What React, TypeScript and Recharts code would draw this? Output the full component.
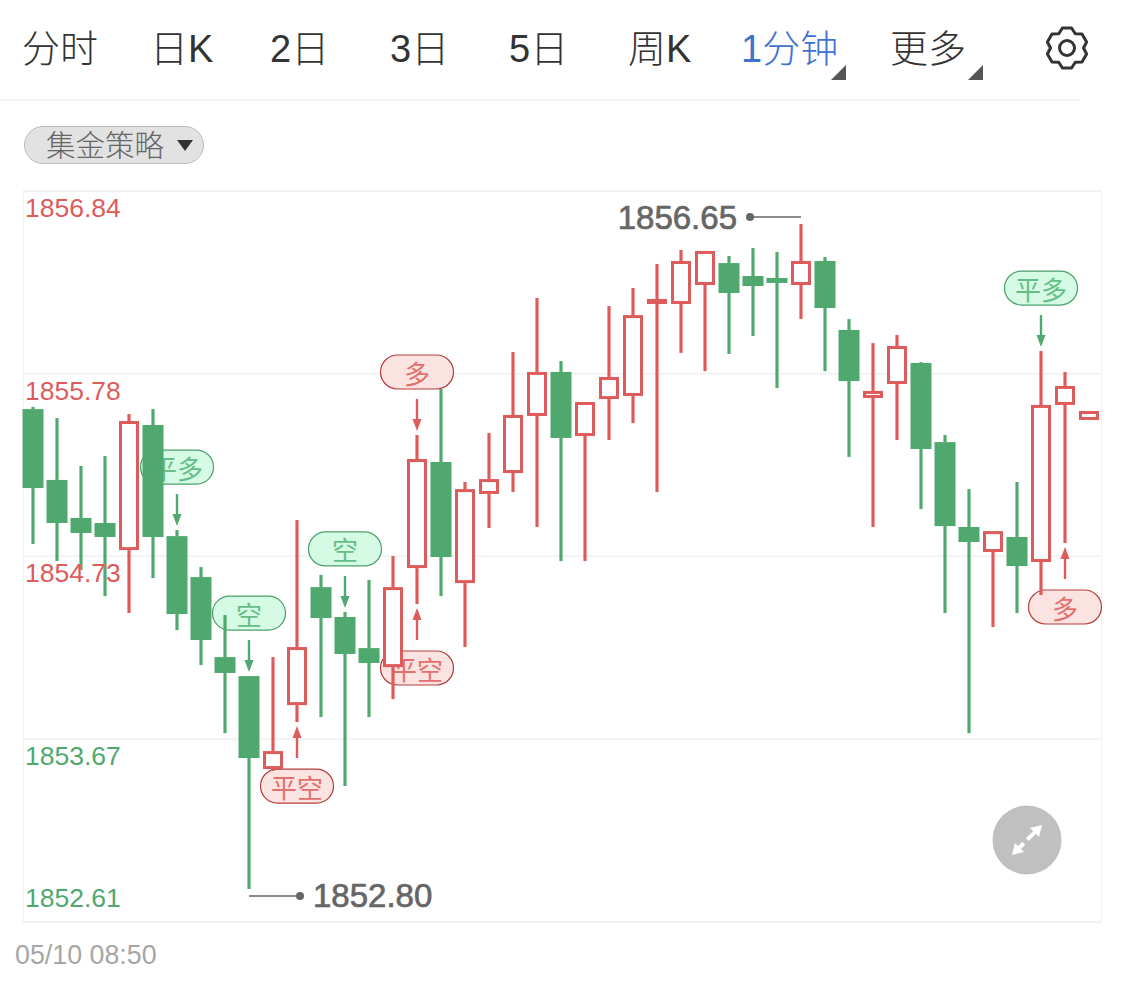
import { Bar, CartesianGrid, ComposedChart, ReferenceDot, XAxis, YAxis } from "recharts";

const RED = "#de5b5b";
const GREEN = "#4fa96f";
const LATIN = '"Liberation Sans", "Noto Sans CJK SC", sans-serif';
const CJK = '"Noto Sans CJK SC", "Liberation Sans", sans-serif';

const times = [
  "08:50", "08:51", "08:52", "08:53", "08:54", "08:55", "08:56", "08:57", "08:58", "08:59",
  "09:00", "09:01", "09:02", "09:03", "09:04", "09:05", "09:06", "09:07", "09:08", "09:09",
  "09:10", "09:11", "09:12", "09:13", "09:14", "09:15", "09:16", "09:17", "09:18", "09:19",
  "09:20", "09:21", "09:22", "09:23", "09:24", "09:25", "09:26", "09:27", "09:28", "09:29",
  "09:30", "09:31", "09:32", "09:33", "09:34",
];
const opens = [
  1855.578, 1855.168, 1854.948, 1854.919, 1854.762, 1855.486, 1854.843, 1854.606, 1854.143, 1854.033,
  1853.495, 1853.865, 1854.548, 1854.375, 1854.195, 1854.085, 1854.658, 1855.272, 1854.571, 1855.087,
  1855.208, 1855.538, 1855.793, 1855.422, 1855.636, 1855.654, 1856.186, 1856.186, 1856.296, 1856.423,
  1856.348, 1856.337, 1856.296, 1856.435, 1856.036, 1855.642, 1855.723, 1855.845, 1855.387, 1854.896,
  1854.751, 1854.838, 1854.693, 1855.602, 1855.515,
];
const closes = [
  1855.121, 1854.919, 1854.861, 1854.838, 1855.509, 1854.838, 1854.392, 1854.242, 1854.051, 1853.559,
  1853.599, 1854.201, 1854.369, 1854.161, 1854.109, 1854.548, 1855.289, 1854.722, 1855.115, 1855.173,
  1855.544, 1855.793, 1855.411, 1855.619, 1855.764, 1856.122, 1856.215, 1856.435, 1856.493, 1856.25,
  1856.29, 1856.308, 1856.435, 1856.163, 1855.74, 1855.683, 1855.943, 1855.347, 1854.901, 1854.809,
  1854.872, 1854.67, 1855.602, 1855.712, 1855.567,
];
const highs = [
  1855.59, 1855.526, 1855.249, 1855.306, 1855.549, 1855.578, 1854.878, 1854.664, 1854.386, 1854.033,
  1854.143, 1854.936, 1854.618, 1854.404, 1854.589, 1854.728, 1855.428, 1855.694, 1855.156, 1855.44,
  1855.908, 1856.221, 1855.856, 1855.619, 1856.174, 1856.279, 1856.418, 1856.499, 1856.493, 1856.464,
  1856.51, 1856.487, 1856.649, 1856.458, 1856.099, 1855.96, 1856.007, 1855.85, 1855.428, 1855.115,
  1854.872, 1855.156, 1855.914, 1855.793, 1855.567,
];
const lows = [
  1854.797, 1854.699, 1854.647, 1854.496, 1854.398, 1854.6, 1854.299, 1854.097, 1853.703, 1852.801,
  1853.484, 1853.767, 1853.796, 1853.397, 1853.796, 1853.9, 1854.45, 1854.496, 1854.201, 1854.89,
  1855.098, 1854.896, 1854.699, 1854.699, 1855.399, 1855.497, 1855.098, 1855.903, 1855.798, 1855.897,
  1856.001, 1855.7, 1856.099, 1855.798, 1855.301, 1854.896, 1855.399, 1855, 1854.398, 1853.703,
  1854.317, 1854.398, 1854.502, 1854.803, 1855.515,
];

const priceTicks = [1856.84, 1855.7825, 1854.726, 1853.6675, 1852.61];

const signalBars = [6, 9, 11, 13, 16, 16, 42, 43];
const signalLabels = ["平多", "空", "平空", "空", "平空", "多", "平多", "多"];
const signalColors = ["green", "green", "red", "green", "red", "red", "green", "red"];
const signalSides = ["above", "above", "below", "above", "below", "above", "above", "below"];

const tabLabels = ["分时", "日K", "2日", "3日", "5日", "周K", "1分钟", "更多"];
const tabLeft = [22, 150, 270, 390, 509, 628, 741, 890];

const data = times.map((time, i) => ({
  time,
  open: opens[i],
  close: closes[i],
  high: highs[i],
  low: lows[i],
  range: [lows[i], highs[i]],
}));

function Candle(props: any) {
  const { x, y, width, height, payload } = props;
  const up = payload.close >= payload.open;
  const color = up ? RED : GREEN;
  const cx = x + width / 2;
  const k = height / (payload.high - payload.low);
  const top = y + (payload.high - Math.max(payload.open, payload.close)) * k;
  const bottom = y + (payload.high - Math.min(payload.open, payload.close)) * k;
  return (
    <g>
      <line x1={cx} x2={cx} y1={y} y2={top} stroke={color} strokeWidth={3.2} />
      <line x1={cx} x2={cx} y1={bottom} y2={y + height} stroke={color} strokeWidth={3.2} />
      {up ? (
        <rect x={cx - 8.5} y={top + 1.5} width={17} height={Math.max(bottom - top - 3, 0)} fill="#fff" stroke={color} strokeWidth={3} />
      ) : (
        <rect x={cx - 10.5} y={top} width={21} height={bottom - top} fill={color} />
      )}
    </g>
  );
}

function Signal(props: any) {
  const { cx, cy, label, color, side } = props;
  const isRed = color === "red";
  const main = isRed ? RED : GREEN;
  const dir = side === "above" ? -1 : 1;
  const tip = cy + dir * 4;
  const tail = tip + dir * 32;
  const pillY = tail + dir * (side === "above" ? 27 : 28);
  return (
    <g>
      <line x1={cx} x2={cx} y1={tail} y2={tip + dir * 8} stroke={main} strokeWidth={2.4} />
      <path d={`M${cx} ${tip}L${cx - 4.5} ${tip + dir * 12}L${cx + 4.5} ${tip + dir * 12}Z`} fill={main} />
      <rect
        x={cx - 36.5}
        y={pillY - 17}
        width={73}
        height={34}
        rx={17}
        fill={isRed ? "#fbe3e2" : "#d5fbe5"}
        stroke={isRed ? "#b43c3c" : "#4a9f6c"}
        strokeWidth={1.2}
      />
      <text
        x={cx}
        y={pillY}
        textAnchor="middle"
        dominantBaseline="central"
        fontFamily={CJK}
        fontSize={26}
        fill={isRed ? "#e2706e" : "#66bd88"}
      >
        {label}
      </text>
    </g>
  );
}

function Extreme(props: any) {
  const { cx, cy, value, side } = props;
  const dir = side === "left" ? -1 : 1;
  const lineY = cy + (side === "left" ? -7 : 7);
  return (
    <g>
      <line x1={cx} x2={cx + dir * 48} y1={lineY} y2={lineY} stroke="#666" strokeWidth={1.3} />
      <circle cx={cx + dir * 51} cy={lineY} r={4} fill="#666" />
      <text
        x={cx + dir * 64}
        y={lineY}
        textAnchor={side === "left" ? "end" : "start"}
        dominantBaseline="central"
        fontFamily={LATIN}
        fontSize={33}
        fill="#666"
        stroke="#666"
        strokeWidth={0.7}
      >
        {value.toFixed(2)}
      </text>
    </g>
  );
}

function PriceTick(props: any) {
  const { y, payload, index } = props;
  const color = payload.value > 1854 ? RED : GREEN;
  return (
    <text x={25} y={y + (index === 4 ? -24 : 17)} dominantBaseline="central" fontFamily={LATIN} fontSize={26.5} fill={color}>
      {payload.value.toFixed(2)}
    </text>
  );
}

function TimeTick(props: any) {
  const { x, payload } = props;
  return (
    <text x={x - 18} y={955} dominantBaseline="central" fontFamily={LATIN} fontSize={26.8} fill="#a6a6a6">
      {`05/10 ${payload.value}`}
    </text>
  );
}

function GearIcon() {
  // six-tooth cog outline
  const pts: string[] = [];
  for (let i = 0; i < 6; i++) {
    const a = (-90 + i * 60) * (Math.PI / 180);
    [[-30, 16.5], [-13, 20.5], [13, 20.5], [30, 16.5]].forEach(([off, r]) => {
      const t = a + (off * Math.PI) / 180;
      pts.push(`${(22 + r * Math.cos(t)).toFixed(2)},${(22 + r * Math.sin(t)).toFixed(2)}`);
    });
  }
  return (
    <svg width={44} height={44} style={{ position: "absolute", left: 1045, top: 26 }}>
      <polygon points={pts.join(" ")} fill="none" stroke="#333" strokeWidth={3} strokeLinejoin="round" />
      <circle cx={22} cy={22} r={7.5} fill="none" stroke="#333" strokeWidth={3} />
    </svg>
  );
}

export default function App() {
  const maxHigh = Math.max(...highs);
  const minLow = Math.min(...lows);
  return (
    <div style={{ position: "absolute", left: 0, top: 0, width: 1125, height: 983, background: "#fff", overflow: "hidden" }}>
      {tabLabels.map((label, i) => (
        <div
          key={label}
          style={{
            position: "absolute",
            left: tabLeft[i],
            top: 25,
            fontFamily: LATIN,
            fontSize: 38,
            fontWeight: 300,
            lineHeight: "48px",
            whiteSpace: "nowrap",
            color: label === "1分钟" ? "#3f72cf" : "#333",
          }}
        >
          {label}
        </div>
      ))}
      <svg width={1125} height={100} style={{ position: "absolute", left: 0, top: 0 }}>
        <path d="M846 65V80H831Z" fill="#555" />
        <path d="M983 65V80H968Z" fill="#555" />
      </svg>
      <GearIcon />
      <div style={{ position: "absolute", left: 0, top: 99, width: 1080, height: 2, background: "#f3f3f3" }} />

      <div
        style={{
          position: "absolute",
          left: 24,
          top: 126,
          width: 178,
          height: 36,
          borderRadius: 19,
          border: "1px solid #bbb",
          background: "#e2e2e2",
        }}
      >
        <span style={{ position: "absolute", left: 21, top: -3, lineHeight: "38px", fontFamily: CJK, fontSize: 29.5, fontWeight: 300, color: "#666", whiteSpace: "nowrap" }}>
          集金策略
        </span>
        <svg width={16} height={11} style={{ position: "absolute", left: 152, top: 13 }}>
          <path d="M0 0H16L8 11Z" fill="#333" />
        </svg>
      </div>

      <div style={{ position: "absolute", left: 23, top: 190, width: 1077, height: 731, border: "1px solid #f1f1f1" }} />

      <div style={{ position: "absolute", left: 0, top: 0 }}>
        <ComposedChart
          width={1125}
          height={983}
          data={data}
          barCategoryGap={0}
          margin={{ top: 191, right: 24, bottom: 0, left: 21 }}
        >
          <CartesianGrid vertical={false} stroke="#f3f3f3" strokeWidth={2} x={24} width={1077} />
          <XAxis dataKey="time" ticks={[times[0]]} interval={0} axisLine={false} tickLine={false} height={61} tick={<TimeTick />} />
          <YAxis
            type="number"
            domain={[1852.61, 1856.84]}
            ticks={priceTicks}
            interval={0}
            mirror
            width={100}
            axisLine={false}
            tickLine={false}
            tick={<PriceTick />}
            allowDataOverflow
          />
          {signalBars.map((bar, i) => (
            <ReferenceDot
              key={i}
              x={times[bar]}
              y={signalSides[i] === "above" ? highs[bar] : lows[bar]}
              ifOverflow="visible"
              zIndex={200}
              shape={(p: any) => <Signal {...p} label={signalLabels[i]} color={signalColors[i]} side={signalSides[i]} />}
            />
          ))}
          <Bar dataKey="range" shape={<Candle />} isAnimationActive={false} />
          <ReferenceDot
            x={times[highs.indexOf(maxHigh)]}
            y={maxHigh}
            ifOverflow="visible"
            shape={(p: any) => <Extreme {...p} value={maxHigh} side="left" />}
          />
          <ReferenceDot
            x={times[lows.indexOf(minLow)]}
            y={minLow}
            ifOverflow="visible"
            shape={(p: any) => <Extreme {...p} value={minLow} side="right" />}
          />
        </ComposedChart>
      </div>

      <svg width={70} height={70} style={{ position: "absolute", left: 992, top: 805 }}>
        <circle cx={35} cy={35} r={34.5} fill="#c0c0c0" />
        <path d="M24 46L46 24" stroke="#fff" strokeWidth={4} strokeDasharray="11 5" />
        <path d="M20 50L32 47L23 38Z" fill="#fff" />
        <path d="M50 20L38 23L47 32Z" fill="#fff" />
      </svg>
    </div>
  );
}
